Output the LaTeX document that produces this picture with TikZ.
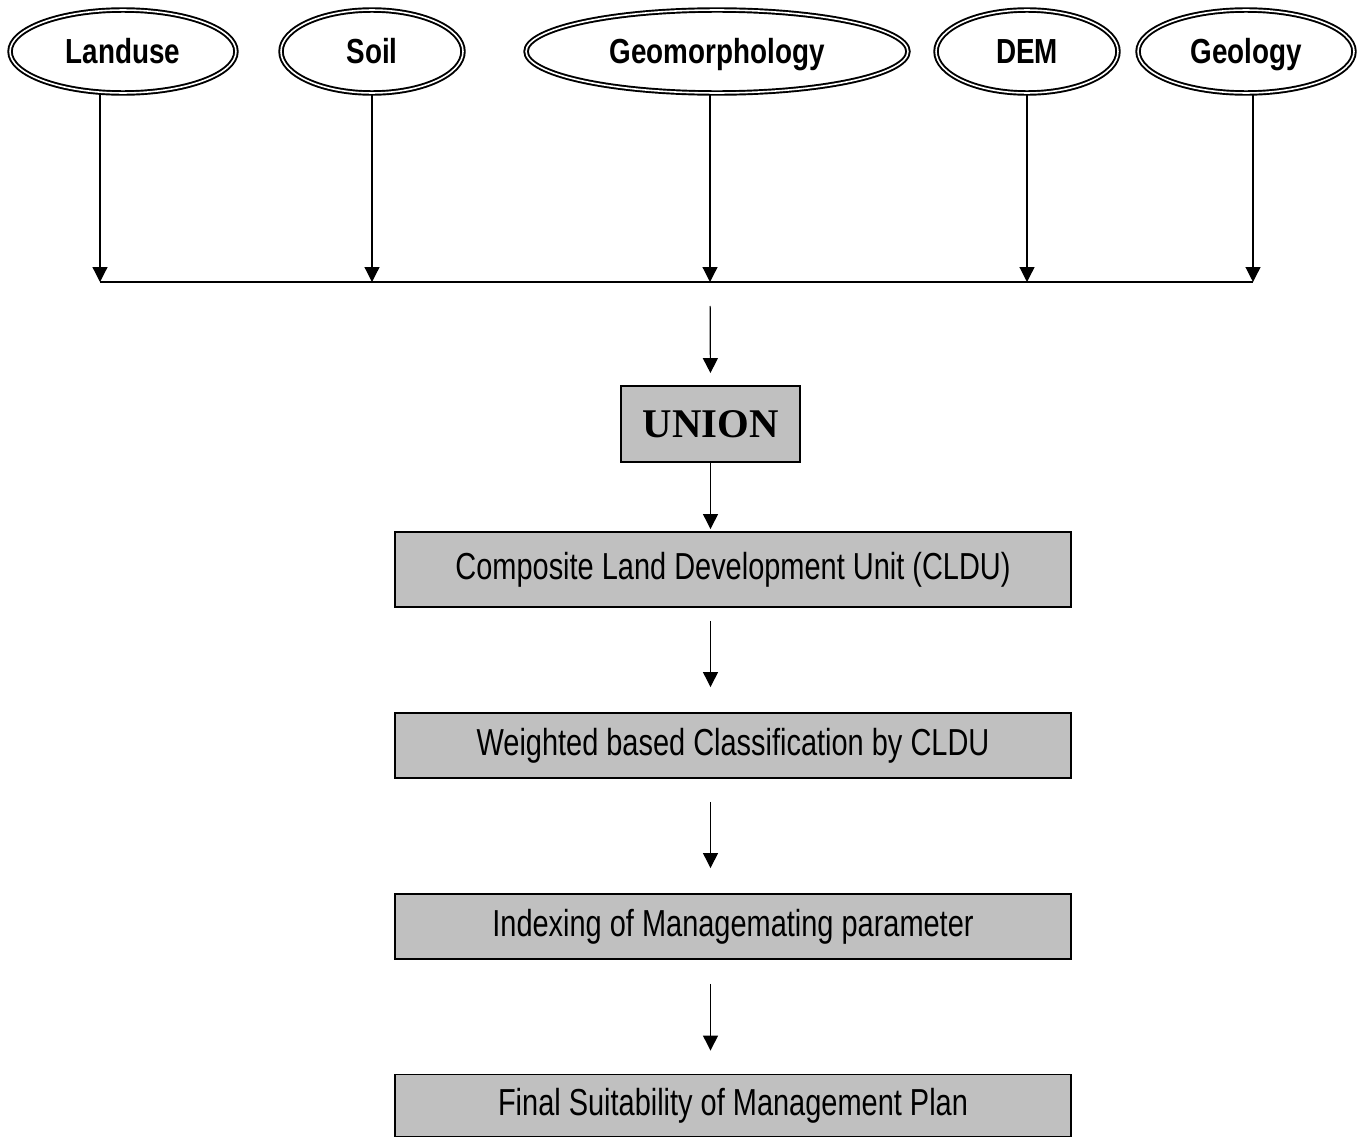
\documentclass[tikz,border=0pt]{standalone}
\usepackage{fontspec}
\setmainfont{Liberation Serif}
\newfontfamily\ellfont{Liberation Sans}[FakeStretch=0.8]
\newfontfamily\boxfont{Liberation Sans}[FakeStretch=0.77]
\usetikzlibrary{positioning,arrows.meta,shapes.geometric}
\definecolor{boxgray}{HTML}{C0C0C0}

\begin{document}
\begin{tikzpicture}[x=0.02cm,y=-0.02cm,
	layer/.style={ellipse,draw=black,double,line width=1.1pt,double distance=0.9pt,fill=white,inner sep=0pt,minimum height=1.66cm,text height=0.5cm,text depth=0cm,font=\ellfont\bfseries\fontsize{19.8}{22}\selectfont},
	stepbox/.style={rectangle,draw=black,line width=1.1pt,fill=boxgray,inner sep=0pt,minimum width=13.52cm,font=\boxfont\fontsize{21.4}{24}\selectfont},
	arr/.style={line width=0.7pt,-{Triangle[length=0.3cm,width=0.3cm]}}]
			\useasboundingbox (0,0) rectangle (1361,1139);

			%input layers
			\node [layer,minimum width=4.52cm] (landuse) at (123,51.5) {Landuse};
			\node [layer,minimum width=3.64cm] (soil) at (372,51.5) {Soil};
			\node [layer,minimum width=7.64cm] (geomorph) at (717,51.5) {Geomorphology};
			\node [layer,minimum width=3.64cm] (dem) at (1027,51.5) {DEM};
			\node [layer,minimum width=4.32cm] (geology) at (1246,51.5) {Geology};

			%collecting line
			\coordinate (b1) at (100,282);
			\coordinate (b2) at (372,282);
			\coordinate (b3) at (710,282);
			\coordinate (b4) at (1027,282);
			\coordinate (b5) at (1253,282);
			\draw [line width=0.7pt] (b1) -- (b5);

			%process boxes
			\node [stepbox,minimum width=3.58cm,minimum height=1.52cm,font=\rmfamily\bfseries\fontsize{23.2}{26}\selectfont] (union) at (710.5,424) {UNION};
			\node [stepbox,minimum height=1.50cm] (cldu) at (733,569.5) {Composite Land Development Unit (CLDU)};
			\node [stepbox,minimum height=1.30cm] (wbc) at (733,745.5) {Weighted based Classification by CLDU};
			\node [stepbox,minimum height=1.30cm] (index) at (733,926.5) {Indexing of Managemating parameter};
			\node [stepbox,minimum height=1.24cm] (final) at (733,1105.5) {Final Suitability of Management Plan};

			%edges
			\draw [arr] (landuse.south -| b1) -- (b1);
			\draw [arr] (soil) -- (b2);
			\draw [arr] (geomorph.south -| b3) -- (b3);
			\draw [arr] (dem) -- (b4);
			\draw [arr] (geology.south -| b5) -- (b5);
			\draw [arr,shorten <=0.48cm,shorten >=0.24cm] (b3) -- (union.north);
			\draw [arr,shorten >=0.04cm] (union) -- (cldu.north -| union);
			\draw [arr,shorten <=0.26cm,shorten >=0.5cm] (cldu.south -| union) -- (wbc.north -| union);
			\draw [arr,shorten <=0.46cm,shorten >=0.5cm] (wbc.south -| union) -- (index.north -| union);
			\draw [arr,shorten <=0.48cm,shorten >=0.46cm] (index.south -| union) -- (final.north -| union);
		\end{tikzpicture}
\end{document}
